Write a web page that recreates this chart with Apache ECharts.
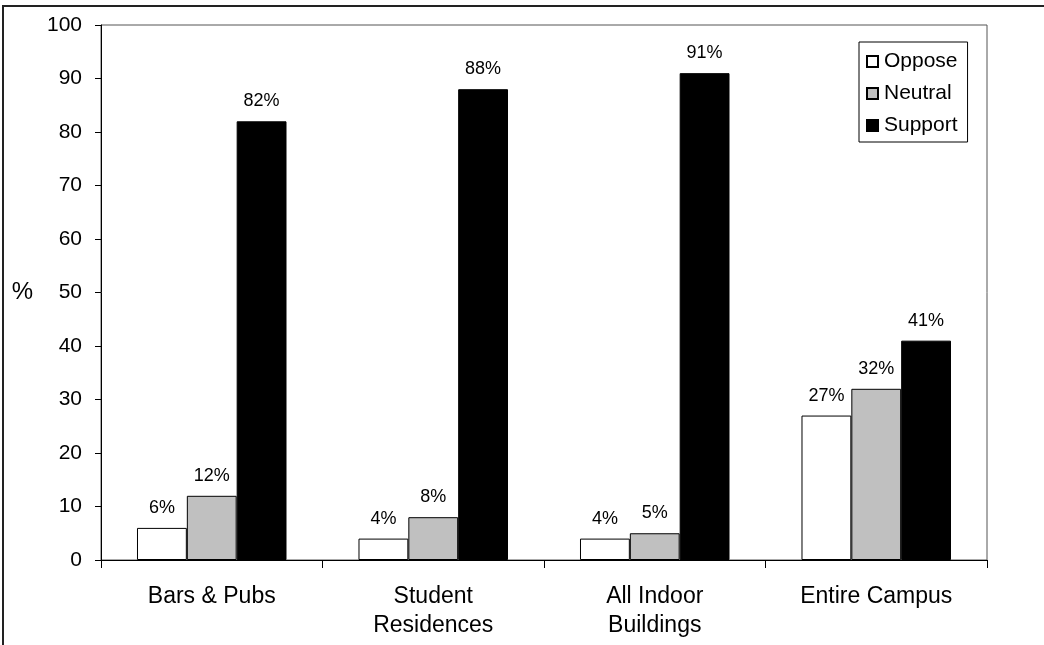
<!DOCTYPE html>
<html>
<head>
<meta charset="utf-8">
<script src="https://cdn.jsdelivr.net/npm/echarts@6/dist/echarts.min.js"></script>
<style>
  html, body { margin: 0; padding: 0; background: #fff; }
  #chart { width: 1044px; height: 645px; }
</style>
</head>
<body>
<div id="chart"></div>
<script>
const categories = ['Bars & Pubs', 'Student\nResidences', 'All Indoor\nBuildings', 'Entire Campus']
const oppose = [6, 4, 4, 27]
const neutral = [12, 8, 5, 32]
const support = [82, 88, 91, 41]
const yTicks = [0, 10, 20, 30, 40, 50, 60, 70, 80, 90, 100]

const font = 'Liberation Sans, Arial, sans-serif'

// shared bar setup
const makeSeries = (name, data, color) => ({
  name,
  type: 'bar',
  data,
  barGap: '0%',
  barCategoryGap: '32.5%',
  itemStyle: { color, borderColor: '#000', borderWidth: 1 },
  label: {
    show: true,
    position: 'top',
    distance: 11,
    formatter: '{c}%',
    color: '#000',
    fontFamily: font,
    fontSize: 18
  }
})

const chart = echarts.init(document.getElementById('chart'))

chart.setOption({
  animation: false,
  textStyle: { fontFamily: font },
  graphic: [{
    type: 'rect',
    shape: { x: 3, y: 6, width: 1200, height: 800 },
    style: { fill: 'none', stroke: '#222', lineWidth: 2 }
  }],
  grid: {
    left: 101, right: 57, top: 25, bottom: 85,
    show: true, borderColor: '#555', borderWidth: 1
  },
  legend: {
    orient: 'vertical',
    left: 859,
    top: 42,
    width: 111,
    padding: [9, 10, 6, 7],
    itemGap: 11,
    itemWidth: 11,
    itemHeight: 11,
    icon: 'rect',
    borderColor: '#000',
    borderWidth: 1,
    backgroundColor: '#fff',
    textStyle: { fontSize: 21, color: '#000', fontFamily: font, padding: [0, 0, 0, 1] },
    data: ['Oppose', 'Neutral', 'Support']
  },
  xAxis: {
    type: 'category',
    data: categories,
    axisLine: { lineStyle: { color: '#000', width: 1 } },
    axisTick: { show: true, length: 8, lineStyle: { color: '#000' } },
    axisLabel: { color: '#000', fontSize: 23, lineHeight: 29, margin: 22, interval: 0, fontFamily: font }
  },
  yAxis: {
    type: 'value',
    min: yTicks[0],
    max: yTicks[yTicks.length - 1],
    interval: 10,
    name: '%',
    nameLocation: 'middle',
    nameRotate: 0,
    nameGap: 68,
    nameTextStyle: { fontSize: 24, color: '#000', fontFamily: font },
    axisLine: { show: true, lineStyle: { color: '#000', width: 1 } },
    axisTick: { show: true, length: 6, lineStyle: { color: '#000' } },
    axisLabel: { color: '#000', fontSize: 21, margin: 19, fontFamily: font },
    splitLine: { show: false }
  },
  series: [
    makeSeries('Oppose', oppose, '#ffffff'),
    makeSeries('Neutral', neutral, '#c0c0c0'),
    makeSeries('Support', support, '#000000')
  ]
})
</script>
</body>
</html>
